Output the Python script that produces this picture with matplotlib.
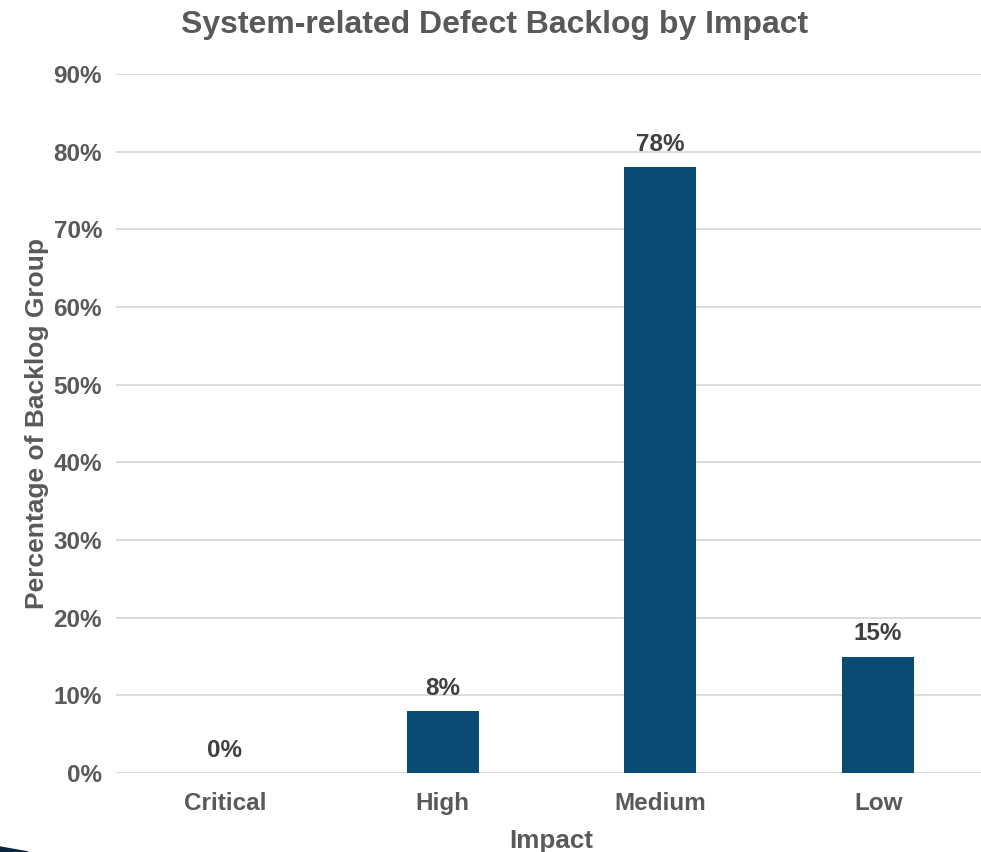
import matplotlib.pyplot as plt
from matplotlib.patches import Polygon

plt.rcParams['font.family'] = ['Liberation Sans', 'DejaVu Sans']
plt.rcParams['font.weight'] = 'bold'

# 各影响等级的积压缺陷占比
impacts = ['Critical', 'High', 'Medium', 'Low']
shares = [0, 8, 78, 15]
yticks = [0, 10, 20, 30, 40, 50, 60, 70, 80, 90]

text_color = '#595959'
bar_color = '#084C73'

fig = plt.figure(figsize=(9.81, 8.52), dpi=100)
ax = fig.add_axes([116 / 981, 79 / 852, 871 / 981, 699 / 852])

x = range(len(impacts))
bars = ax.bar(x, shares, width=0.33, color=bar_color, zorder=3)

# 柱顶数值标签
for b, v in zip(bars, shares):
    ax.annotate(f'{v}%', (b.get_x() + b.get_width() / 2, v),
                xytext=(0, 8), textcoords='offset points',
                ha='center', va='bottom', fontsize=17.5,
                fontweight='bold', color='#404040')

ax.set_xlim(-0.5, len(impacts) - 0.5)
ax.set_ylim(0, 90)
ax.set_yticks(yticks)
ax.set_yticklabels([f'{t}%' for t in yticks])
ax.set_xticks(list(x))
ax.set_xticklabels(impacts)
ax.tick_params(axis='both', length=0, labelsize=17.5, labelcolor=text_color)
ax.tick_params(axis='y', pad=10)
ax.tick_params(axis='x', pad=14)

ax.grid(axis='y', color='#d9d9d9', linewidth=1.3, zorder=0)
for s in ax.spines.values():
    s.set_visible(False)

ax.set_xlabel('Impact', fontsize=18.7, fontweight='bold', color=text_color, labelpad=10)
ax.set_ylabel('Percentage of Backlog Group', fontsize=19, fontweight='bold',
              color=text_color, labelpad=3)
fig.suptitle('System-related Defect Backlog by Impact', x=495 / 981,
             y=1 - 25 / 852, va='center', fontsize=23,
             fontweight='bold', color=text_color)

# 左下角的深色装饰
fig.patches.append(Polygon([(0, 0), (0, 5 / 852), (28 / 981, 0)],
                           closed=True, transform=fig.transFigure,
                           color='#0a2540'))

fig.savefig('out.png', dpi=100)
